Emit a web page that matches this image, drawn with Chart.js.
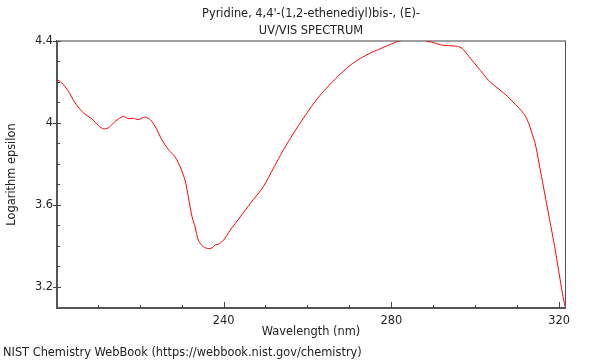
<!DOCTYPE html>
<html><head><meta charset="utf-8">
<script src="https://cdn.jsdelivr.net/npm/chart.js@4/dist/chart.umd.min.js"></script>
<style>html,body{margin:0;padding:0;background:#fff}</style>
</head><body>
<canvas id="c" width="600" height="360"></canvas>
<script>
const wavelength = [200.3, 201.4, 203.0, 204.6, 206.6, 208.6, 210.2, 211.4, 212.6, 214.2, 216.1, 217.3, 218.5, 219.6, 221.3, 222.5, 223.7, 225.3, 226.9, 228.5, 229.9, 230.9, 231.6, 232.5, 233.2, 234.0, 235.2, 236.4, 237.2, 238.0, 238.8, 240.0, 241.6, 244.0, 246.4, 249.5, 251.9, 253.5, 254.3, 256.7, 259.1, 261.5, 263.5, 265.5, 267.9, 270.2, 272.6, 275.0, 277.0, 279.4, 281.4, 283.8, 286.2, 288.5, 290.5, 292.1, 294.1, 295.7, 296.9, 298.1, 299.7, 301.7, 303.2, 305.2, 307.2, 309.2, 311.0, 312.0, 312.8, 313.6, 314.3, 315.2, 316.4, 317.6, 318.8, 320.0, 320.8, 321.4];
const logEpsilon = [4.212, 4.196, 4.155, 4.098, 4.049, 4.020, 3.987, 3.971, 3.977, 4.008, 4.032, 4.021, 4.023, 4.016, 4.029, 4.016, 3.983, 3.918, 3.869, 3.833, 3.775, 3.714, 3.640, 3.542, 3.493, 3.428, 3.395, 3.387, 3.390, 3.405, 3.408, 3.428, 3.477, 3.542, 3.608, 3.689, 3.780, 3.840, 3.870, 3.950, 4.025, 4.095, 4.147, 4.191, 4.240, 4.282, 4.315, 4.341, 4.359, 4.380, 4.397, 4.407, 4.410, 4.400, 4.389, 4.380, 4.377, 4.374, 4.364, 4.335, 4.294, 4.245, 4.207, 4.172, 4.139, 4.098, 4.060, 4.032, 3.995, 3.945, 3.900, 3.804, 3.673, 3.542, 3.412, 3.265, 3.167, 3.105];
const xMajorTicks = [240, 280, 320];
const xMinorTicks = [210, 220, 230, 250, 260, 270, 290, 300, 310];
const yMajorTicks = [3.2, 3.6, 4.0, 4.4];
const yMinorTicks = [3.3, 3.4, 3.5, 3.7, 3.8, 3.9, 4.1, 4.2, 4.3];
const titleLines = ["Pyridine, 4,4'-(1,2-ethenediyl)bis-, (E)-", "UV/VIS SPECTRUM"];
const xTitle = "Wavelength (nm)";
const yTitle = "Logarithm epsilon";
const footerText = "NIST Chemistry WebBook (https://webbook.nist.gov/chemistry)";

const FONT = '"DejaVu Sans", sans-serif';
const FS = 11.4;
const TXT = '#222';

const points = wavelength.map((w, i) => ({x: w, y: logEpsilon[i]}));

const framePlugin = {
  id: 'frame',
  beforeDatasetsDraw(chart) {
    const {ctx, chartArea: a, scales: {x, y}} = chart;
    ctx.save();
    ctx.strokeStyle = '#a0a0a0'; ctx.lineWidth = 2;
    ctx.beginPath(); ctx.moveTo(a.left, a.top); ctx.lineTo(a.right + 1, a.top); ctx.stroke();
    ctx.strokeStyle = '#555'; ctx.lineWidth = 1;
    ctx.beginPath(); ctx.moveTo(a.right + 0.5, a.top); ctx.lineTo(a.right + 0.5, a.bottom); ctx.stroke();
    ctx.strokeStyle = '#444'; ctx.lineWidth = 1;
    const seg = (x1, y1, x2, y2) => { ctx.beginPath(); ctx.moveTo(x1, y1); ctx.lineTo(x2, y2); ctx.stroke(); };
    xMajorTicks.forEach(v => { const p = Math.round(x.getPixelForValue(v)) + 0.5; seg(p, a.bottom, p, a.bottom - 6); });
    xMinorTicks.forEach(v => { const p = Math.round(x.getPixelForValue(v)) + 0.5; seg(p, a.bottom, p, a.bottom - 3); });
    yMajorTicks.forEach(v => { const p = Math.round(y.getPixelForValue(v)) + 0.5; seg(a.left - 4, p, a.left + 4, p); });
    yMinorTicks.forEach(v => { const p = Math.round(y.getPixelForValue(v)) + 0.5; seg(a.left, p, a.left + 3, p); });
    ctx.restore();
  },
  afterDraw(chart) {
    const {ctx, chartArea: a} = chart;
    ctx.save();
    ctx.font = FS + 'px ' + FONT;
    ctx.fillStyle = TXT;
    ctx.textBaseline = 'alphabetic';
    ctx.textAlign = 'center';
    const cx = (a.left + a.right) / 2;
    ctx.fillText(titleLines[0], cx, 17);
    ctx.fillText(titleLines[1], cx, 34);
    ctx.textAlign = 'left';
    ctx.fillText(footerText, 3, 356);
    ctx.restore();
  }
};

new Chart(document.getElementById('c'), {
  type: 'line',
  data: {
    datasets: [{
      data: points,
      borderColor: '#ff0000',
      borderWidth: 1,
      pointRadius: 0,
      tension: 0.25,
      fill: false
    }]
  },
  options: {
    responsive: false,
    devicePixelRatio: 1,
    animation: false,
    layout: {padding: {top: 41, right: 35, bottom: 0, left: 0}},
    plugins: {legend: {display: false}, tooltip: {enabled: false}},
    scales: {
      x: {
        type: 'linear',
        min: 200.3,
        max: 321.4,
        afterBuildTicks: s => { s.ticks = xMajorTicks.map(v => ({value: v})); },
        afterFit: s => { s.height = 52; },
        grid: {display: false, drawTicks: false},
        border: {display: true, color: '#555', width: 2},
        ticks: {font: {family: FONT, size: FS}, color: TXT, padding: 6, maxRotation: 0, autoSkip: false,
                 callback: v => String(v)},
        title: {display: true, text: xTitle, font: {family: FONT, size: FS}, color: TXT, padding: {top: 0, bottom: 21}}
      },
      y: {
        type: 'linear',
        min: 3.097,
        max: 4.4,
        afterBuildTicks: s => { s.ticks = yMajorTicks.map(v => ({value: v})); },
        afterFit: s => { s.width = 57; },
        grid: {display: false, drawTicks: false},
        border: {display: true, color: '#555', width: 2},
        ticks: {font: {family: FONT, size: FS}, color: TXT, padding: 4, autoSkip: false,
                 callback: v => String(Math.round(v * 10) / 10)},
        title: {display: true, text: yTitle, font: {family: FONT, size: FS}, color: TXT, padding: {top: 5, bottom: 0}}
      }
    }
  },
  plugins: [framePlugin]
});
</script>
</body></html>
